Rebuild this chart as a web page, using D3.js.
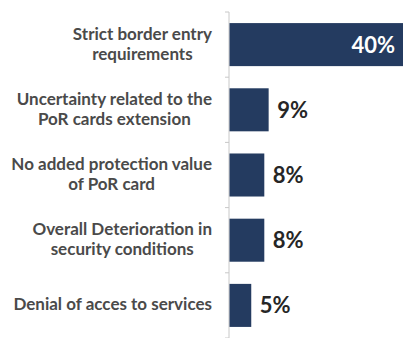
<!DOCTYPE html>
<html>
<head>
<meta charset="utf-8">
<script src="https://cdn.jsdelivr.net/npm/d3@7"></script>
<style>
  body { margin: 0; background: #fff; }
  svg { display: block; }
</style>
</head>
<body>
<svg data-chart></svg>
<script>
const categories = [
    ['Strict border entry', 'requirements'],
    ['Uncertainty related to the', 'PoR cards extension'],
    ['No added protection value', 'of PoR card'],
    ['Overall Deterioration in', 'security conditions'],
    ['Denial of acces to services']
]
const values = [40, 9, 8, 8, 5]

const width = 403,
    height = 338,
    axisX = 229,
    labelRight = 212

let svg = d3.select('[data-chart]')
    .attr('width', width)
    .attr('height', height)

let y = d3.scaleBand()
    .domain(d3.range(categories.length))
    .range([12, 338])
    .paddingInner(0.34)
    .paddingOuter(0.17)

let x = d3.scaleLinear()
    .domain([0, 40])
    .range([axisX, 403])

// axis with ticks at band boundaries
let yAxis = svg.append('g')
    .attr('transform', `translate(${axisX},0)`)

yAxis.append('line')
    .attr('y1', 12).attr('y2', height)
    .attr('stroke', '#c8c8c8')

yAxis.selectAll('.tick')
    .data(d3.range(categories.length + 1))
    .enter().append('line')
    .attr('x1', -4).attr('x2', 0)
    .attr('y1', i => 12 + i * y.step())
    .attr('y2', i => 12 + i * y.step())
    .attr('stroke', '#c8c8c8')

svg.selectAll('rect')
    .data(values)
    .enter().append('rect')
    .attr('x', x(0) + 0.5)
    .attr('y', (d, i) => y(i))
    .attr('width', d => x(d) - x(0))
    .attr('height', y.bandwidth())
    .attr('fill', '#243b60')

// category labels: lines centred, block right-aligned to the axis
let labels = svg.selectAll('.cat')
    .data(categories)
    .enter().append('text')
    .attr('class', 'cat')
    .attr('text-anchor', 'middle')
    .attr('font-family', 'Lato, sans-serif')
    .attr('font-weight', 'bold')
    .attr('font-size', 17)
    .attr('fill', '#4a4a4a')

labels.selectAll('tspan')
    .data((d, i) => d.map((t, j) => ({t, j, n: d.length, i})))
    .enter().append('tspan')
    .attr('y', d => y(d.i) + y.bandwidth() / 2 + 5 + (d.j - (d.n - 1) / 2) * 20)
    .text(d => d.t)

labels.each(function() {
    let spans = d3.select(this).selectAll('tspan')
    let w = d3.max(spans.nodes(), n => n.getComputedTextLength())
    spans.attr('x', labelRight - w / 2)
})

// value labels
svg.selectAll('.val')
    .data(values)
    .enter().append('text')
    .attr('class', 'val')
    .attr('font-family', 'Lato, sans-serif')
    .attr('font-weight', 'bold')
    .attr('font-size', 22)
    .attr('x', (d, i) => i == 0 ? x(d) - 8 : x(d) + 9)
    .attr('y', (d, i) => y(i) + y.bandwidth() / 2 + 8)
    .attr('text-anchor', (d, i) => i == 0 ? 'end' : 'start')
    .attr('fill', (d, i) => i == 0 ? '#ffffff' : '#262626')
    .text(d => d + '%')
</script>
</body>
</html>
